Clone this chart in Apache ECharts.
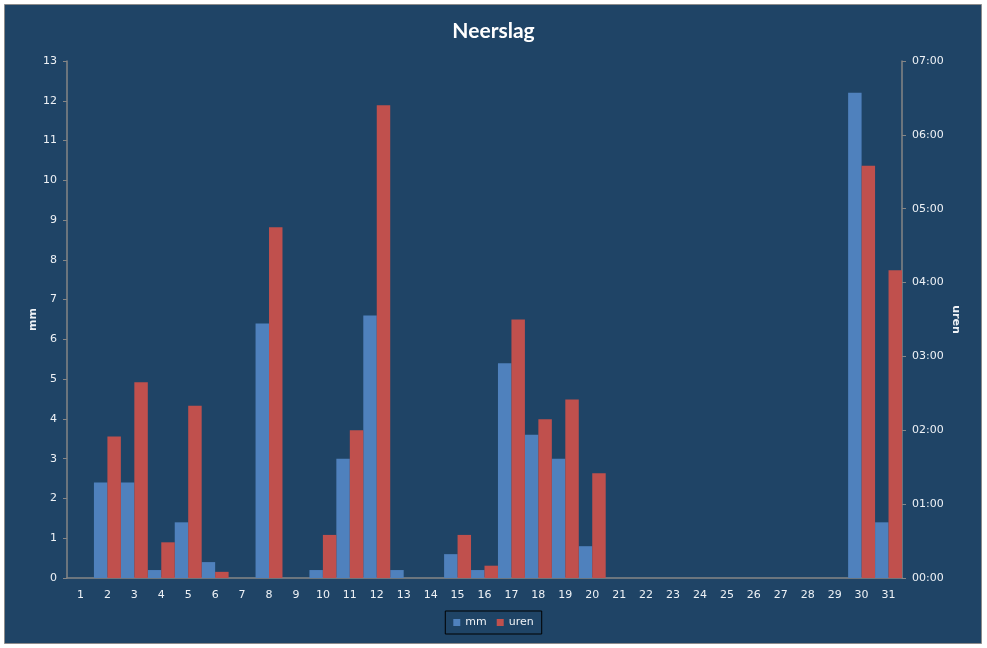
<!DOCTYPE html>
<html><head><meta charset="utf-8">
<script src="https://cdn.jsdelivr.net/npm/echarts@6/dist/echarts.min.js"></script>
<style>html,body{margin:0;padding:0;background:#fff}#c{width:987px;height:648px}</style>
</head><body><div id="c"></div>
<script>
const days = ['1','2','3','4','5','6','7','8','9','10','11','12','13','14','15','16','17','18','19','20','21','22','23','24','25','26','27','28','29','30','31'];
// neerslag in mm
const mm = [0,2.4,2.4,0.2,1.4,0.4,0,6.4,0,0.2,3.0,6.6,0.2,0,0.6,0.2,5.4,3.6,3.0,0.8,0,0,0,0,0,0,0,0,0,12.2,1.4];
// duur in minuten
const urenMin = [0,115,159,29,140,5,0,285,0,35,120,384,0,0,35,10,210,129,145,85,0,0,0,0,0,0,0,0,0,335,250];
const rightTicks = ['00:00','01:00','02:00','03:00','04:00','05:00','06:00','07:00'];

const chart = echarts.init(document.getElementById('c'));
const axisCol = '#868686';
const txt = '#eef2f6';
const font = 'DejaVu Sans';
chart.setOption({
  backgroundColor: '#ffffff',
  animation: false,
  graphic: [{type:'rect', z:-10, silent:true, shape:{x:4.5,y:4.5,width:977,height:639}, style:{fill:'#1F4466', stroke:'#8c8c8c', lineWidth:1}}],
  title: {text:'Neerslag', left:'center', top:16, textStyle:{color:'#ffffff', fontFamily:'Lato', fontWeight:'bold', fontSize:21}},
  legend: {data:['mm','uren'], left:'center', top:611, itemWidth:7, itemHeight:7, itemGap:10, borderColor:'#000', borderWidth:1, padding:[6,8,6,8],
    textStyle:{color:txt, fontFamily:font, fontSize:11}, icon:'rect'},
  grid: {left:67, right:85, top:61, bottom:70},
  xAxis: {type:'category', data:days, axisLine:{lineStyle:{color:axisCol, width:1.5}}, axisTick:{length:4, lineStyle:{color:axisCol}},
    axisLabel:{color:txt, fontFamily:font, fontSize:11, margin:12}},
  yAxis: [
    {type:'value', min:0, max:13, interval:1, name:'mm', nameLocation:'middle', nameGap:28, nameRotate:90, nameMoveOverlap:false,
     nameTextStyle:{color:txt, fontFamily:font, fontSize:11, fontWeight:'bold'},
     axisLine:{show:true, lineStyle:{color:axisCol, width:1.5}}, axisTick:{show:true, length:4, lineStyle:{color:axisCol}},
     splitLine:{show:false}, axisLabel:{color:txt, fontFamily:font, fontSize:11, margin:10}},
    {type:'value', min:0, max:420, interval:60, position:'right', name:'uren', nameLocation:'middle', nameGap:48, nameRotate:-90, nameMoveOverlap:false,
     nameTextStyle:{color:txt, fontFamily:font, fontSize:11, fontWeight:'bold'},
     axisLine:{show:true, lineStyle:{color:axisCol, width:1.5}}, axisTick:{show:true, length:4, lineStyle:{color:axisCol}},
     splitLine:{show:false}, axisLabel:{color:txt, fontFamily:font, fontSize:11, margin:10, formatter:(v)=>rightTicks[Math.round(v/60)]}}
  ],
  series: [
    {name:'mm', type:'bar', yAxisIndex:0, data:mm, barGap:'0%', barCategoryGap:'0%', itemStyle:{color:'#4F81BD'}},
    {name:'uren', type:'bar', yAxisIndex:1, data:urenMin, barGap:'0%', barCategoryGap:'0%', itemStyle:{color:'#C0504D'}}
  ]
});
</script></body></html>
